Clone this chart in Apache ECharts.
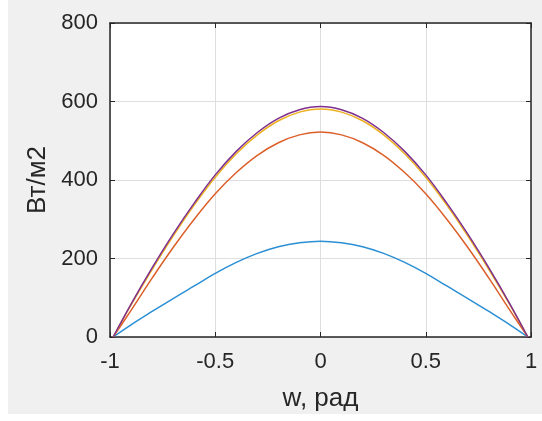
<!DOCTYPE html>
<html>
<head>
<meta charset="utf-8">
<script src="https://cdn.jsdelivr.net/npm/echarts@6/dist/echarts.min.js"></script>
<style>
html, body { margin: 0; padding: 0; background: #ffffff; }
#chartmain { width: 542px; height: 421px; }
</style>
</head>
<body>
<div id="chartmain"></div>
<script>
// углы (w, рад)
var w = [-0.985, -0.9, -0.8, -0.7, -0.6, -0.5, -0.4, -0.3, -0.2, -0.1, 0,
         0.1, 0.2, 0.3, 0.4, 0.5, 0.6, 0.7, 0.8, 0.9, 0.985];
// значения, Вт/м2
var blue   = [0, 31, 65, 98, 130, 162, 190, 213, 230, 240, 244, 240, 230, 213, 190, 162, 130, 98, 65, 31, 0];
var orange = [0, 68, 150, 228, 300, 365, 419, 463, 495, 515, 522, 515, 495, 463, 419, 365, 300, 228, 150, 68, 0];
var yellow = [0, 82, 172, 257, 336, 407, 467, 515, 551, 573, 581, 573, 551, 515, 467, 407, 336, 257, 172, 82, 0];
var purple = [0, 84, 176, 262, 341, 413, 473, 521, 557, 579, 587, 579, 557, 521, 473, 413, 341, 262, 176, 84, 0];

var xTicks = [-1, -0.5, 0, 0.5, 1];
var yTicks = [0, 200, 400, 600, 800];

function pairs(vals) {
    return vals.map(function (v, i) { return [w[i], v]; });
}

var chart = echarts.init(document.getElementById('chartmain'));

var textColor = '#262626';
var font = 'Arial, "Liberation Sans", sans-serif';

function line(name, vals, color) {
    return {
        name: name,
        type: 'line',
        data: pairs(vals),
        smooth: 0.4,
        showSymbol: false,
        lineStyle: { color: color, width: 1.5 },
        itemStyle: { color: color },
        silent: true
    };
}

option = {
    animation: false,
    backgroundColor: '#ffffff',
    graphic: [{
        type: 'rect',
        z: -10,
        shape: { x: 8, y: 0, width: 534, height: 414 },
        style: { fill: '#f0f0f0' }
    }],
    grid: {
        left: 110,
        right: 11,
        top: 23,
        bottom: 84,
        show: true,
        backgroundColor: '#ffffff',
        borderWidth: 0
    },
    xAxis: [{
        type: 'value',
        min: xTicks[0],
        max: xTicks[xTicks.length - 1],
        interval: 0.5,
        name: 'w, рад',
        nameLocation: 'middle',
        nameGap: 49,
        nameTextStyle: { color: textColor, fontSize: 26, fontFamily: font },
        axisLine: { show: true, onZero: false, lineStyle: { color: textColor, width: 1.5 } },
        axisTick: { show: true, inside: true, length: 5, lineStyle: { color: textColor } },
        axisLabel: { color: textColor, fontSize: 22, fontFamily: font, margin: 14 },
        splitLine: { show: true, lineStyle: { color: '#dedede', width: 1 } }
    }, {
        type: 'value',
        position: 'top',
        min: xTicks[0],
        max: xTicks[xTicks.length - 1],
        interval: 0.5,
        axisLine: { show: true, onZero: false, lineStyle: { color: textColor, width: 1.5 } },
        axisTick: { show: true, inside: true, length: 5, lineStyle: { color: textColor } },
        axisLabel: { show: false },
        splitLine: { show: false }
    }],
    yAxis: [{
        type: 'value',
        min: yTicks[0],
        max: yTicks[yTicks.length - 1],
        interval: 200,
        name: 'Вт/м2',
        nameLocation: 'middle',
        nameGap: 59,
        nameTextStyle: { color: textColor, fontSize: 26, fontFamily: font },
        axisLine: { show: true, onZero: false, lineStyle: { color: textColor, width: 1.5 } },
        axisTick: { show: true, inside: true, length: 5, lineStyle: { color: textColor } },
        axisLabel: { color: textColor, fontSize: 22, fontFamily: font, margin: 12 },
        splitLine: { show: true, lineStyle: { color: '#dedede', width: 1 } }
    }, {
        type: 'value',
        position: 'right',
        min: yTicks[0],
        max: yTicks[yTicks.length - 1],
        interval: 200,
        axisLine: { show: true, onZero: false, lineStyle: { color: textColor, width: 1.5 } },
        axisTick: { show: true, inside: true, length: 5, lineStyle: { color: textColor } },
        axisLabel: { show: false },
        splitLine: { show: false }
    }],
    series: [
        line('1', blue, '#2a8fd4'),
        line('2', orange, '#dc5f2a'),
        line('3', yellow, '#edb120'),
        line('4', purple, '#7e2f8e')
    ]
};

chart.setOption(option);
</script>
</body>
</html>
